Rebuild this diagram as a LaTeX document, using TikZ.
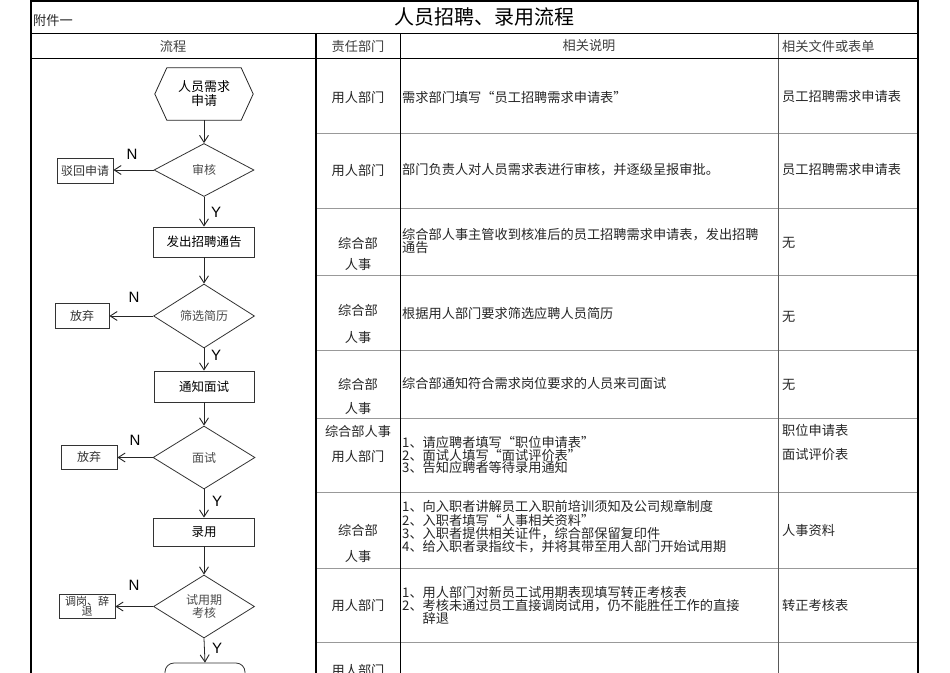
\documentclass[tikz,border=0pt]{standalone}
\usepackage{fontspec}
\setmainfont{Noto Sans CJK SC}
\newfontfamily\latf{Liberation Sans}
\usetikzlibrary{arrows.meta,shapes.geometric}
\begin{document}
\begin{tikzpicture}[x=1pt,y=-1pt,
  flowline/.style={draw=black!85,line width=0.8pt},
  arr/.style={flowline,-{Straight Barb[length=7pt,width=9pt,line width=0.9pt]}},
  procbox/.style={draw=black!80,line width=0.8pt,rectangle,inner sep=0pt,font=\fontsize{12.5}{13}\selectfont},
  sidebox/.style={draw=black!80,line width=0.8pt,rectangle,inner sep=0pt,font=\fontsize{12}{12}\selectfont,text=black!80},
  decision/.style={draw=black!80,line width=0.8pt,diamond,inner sep=0pt,aspect=2,font=\fontsize{12}{13}\selectfont,text=black!70},
  yn/.style={font=\latf\fontsize{15}{15}\selectfont,inner sep=0pt},
  cell/.style={font=\fontsize{13.2}{13}\selectfont,inner sep=0pt,text=black!85},
  desc/.style={cell,anchor=west,align=left},
  filec/.style={cell,anchor=west},
  rowline/.style={draw=black!40,line width=0.8pt},
]
\clip (0,0) rectangle (950,672);
\fill[white] (0,0) rectangle (950,672);

% ---- table grid ----
\foreach \yy in {133,208,275,350,418,492,568,642}
  \draw[rowline] (316,\yy) -- (918,\yy);
\draw[black!65,line width=1pt] (778,33) -- (778,690);
\draw[black,line width=1.2pt] (400.5,33) -- (400.5,690);
\draw[black,line width=1.5pt] (316,33) -- (316,690);
\draw[black,line width=1pt] (31,33) -- (918,33);
\draw[black,line width=1pt] (31,58) -- (918,58);
\draw[black,line width=2pt] (31,690) -- (31,1) -- (918,1) -- (918,690);

% ---- title and header ----
\node[cell,anchor=west] (fj) at (33,20) {附件一};
\node[font=\fontsize{20}{20}\selectfont,inner sep=0pt] (title) at (484,17) {人员招聘、录用流程};
\node[cell,text=black!75] (h1) at (173,46) {流程};
\node[cell,text=black!75] (h2) at (358,46) {责任部门};
\node[cell,text=black!75] (h3) at (589,46) {相关说明};
\node[filec,text=black!75] (h4) at (782,46) {相关文件或表单};

% ---- row 1 ----
\node[cell] (r1d) at (358,97) {用人部门};
\node[desc] (r1s) at (402,97) {需求部门填写“员工招聘需求申请表”};
\node[filec] (r1f) at (782,97) {员工招聘需求申请表};
% ---- row 2 ----
\node[cell] (r2d) at (358,170) {用人部门};
\node[desc] (r2s) at (402,170) {部门负责人对人员需求表进行审核，并逐级呈报审批。};
\node[filec] (r2f) at (782,170) {员工招聘需求申请表};
% ---- row 3 ----
\node[cell] (r3d1) at (358,243) {综合部};
\node[cell] (r3d2) at (358,264) {人事};
\node[desc,font=\fontsize{13.2}{12}\selectfont] (r3s) at (402,241) {综合部人事主管收到核准后的员工招聘需求申请表，发出招聘\\通告};
\node[filec] (r3f) at (782,243) {无};
% ---- row 4 ----
\node[cell] (r4d1) at (358,310) {综合部};
\node[cell] (r4d2) at (358,337) {人事};
\node[desc] (r4s) at (402,313) {根据用人部门要求筛选应聘人员简历};
\node[filec] (r4f) at (782,317) {无};
% ---- row 5 ----
\node[cell] (r5d1) at (358,384) {综合部};
\node[cell] (r5d2) at (358,408) {人事};
\node[desc] (r5s) at (402,383) {综合部通知符合需求岗位要求的人员来司面试};
\node[filec] (r5f) at (782,385) {无};
% ---- row 6 ----
\node[cell] (r6d1) at (358,431) {综合部人事};
\node[cell] (r6d2) at (358,456) {用人部门};
\node[desc,font=\fontsize{13.2}{12.5}\selectfont] (r6s) at (402,455) {1、请应聘者填写“职位申请表”\\2、面试人填写“面试评价表”\\3、告知应聘者等待录用通知};
\node[filec] (r6f1) at (782,430) {职位申请表};
\node[filec] (r6f2) at (782,455) {面试评价表};
% ---- row 7 ----
\node[cell] (r7d1) at (358,530) {综合部};
\node[cell] (r7d2) at (358,556) {人事};
\node[desc,font=\fontsize{13.2}{12}\selectfont] (r7s) at (402,527) {1、向入职者讲解员工入职前培训须知及公司规章制度\\2、入职者填写“人事相关资料”\\3、入职者提供相关证件，综合部保留复印件\\4、给入职者录指纹卡，并将其带至用人部门开始试用期};
\node[filec] (r7f) at (782,530) {人事资料};
% ---- row 8 ----
\node[cell] (r8d) at (358,605) {用人部门};
\node[desc,font=\fontsize{13.2}{13}\selectfont] (r8s) at (402,605) {1、用人部门对新员工试用期表现填写转正考核表\\2、考核未通过员工直接调岗试用，仍不能胜任工作的直接\\\phantom{2、}辞退};
\node[filec] (r8f) at (782,605) {转正考核表};
% ---- row 9 (cut) ----
\node[cell] (r9d) at (358,670) {用人部门};

% ---- flow chart ----
\node[minimum width=98pt,minimum height=52pt,inner sep=0pt,align=center,font=\fontsize{13}{14}\selectfont] (req) at (204,94) {人员需求\\申请};
\draw[flowline] (req.west) -- ([xshift=12pt]req.north west) -- ([xshift=-12pt]req.north east) -- (req.east) -- ([xshift=-12pt]req.south east) -- ([xshift=12pt]req.south west) -- cycle;

\node[decision,minimum width=100pt,minimum height=53pt] (d1) at (204,170) {审核};
\node[sidebox,minimum width=56pt,minimum height=25pt] (rej) at (85,171) {驳回申请};
\node[procbox,minimum width=101pt,minimum height=30pt] (notice) at (204,242) {发出招聘通告};
\node[decision,minimum width=101pt,minimum height=64pt] (d2) at (204,316) {筛选简历};
\node[sidebox,minimum width=54pt,minimum height=25pt] (gu1) at (82,315.5) {放弃};
\node[procbox,minimum width=100pt,minimum height=31pt] (inv) at (204,386.5) {通知面试};
\node[decision,minimum width=102pt,minimum height=63pt] (d3) at (204,457.5) {面试};
\node[sidebox,minimum width=56pt,minimum height=24pt] (gu2) at (89,457) {放弃};
\node[procbox,minimum width=101pt,minimum height=28pt] (hire) at (204,532) {录用};
\node[decision,minimum width=101pt,minimum height=63pt,align=center] (d4) at (204,606.5) {试用期\\考核};
\node[sidebox,minimum width=56pt,minimum height=24pt,align=center,font=\fontsize{11}{10}\selectfont] (adj) at (87,606) {调岗、辞\\退};
\node[draw=black!80,line width=0.8pt,rounded corners=9pt,minimum width=80pt,minimum height=30pt] (endn) at (205,678) {};

\draw[arr] (req.south) -- (d1.north);
\draw[arr] (d1.west) -- (rej.east |- d1.west);
\draw[arr] (d1.south) -- (notice.north);
\draw[arr] (notice.south) -- (d2.north);
\draw[arr] (d2.west) -- (gu1.east |- d2.west);
\draw[arr] (d2.south) -- (inv.north);
\draw[arr] (inv.south) -- (d3.north);
\draw[arr] (d3.west) -- (gu2.east |- d3.west);
\draw[arr] (d3.south) -- (hire.north);
\draw[arr] (hire.south) -- (d4.north);
\draw[arr] (d4.west) -- (adj.east |- d4.west);
\draw[arr] (d4.south) -- (endn.north);

\node[yn] (n1) at (132,154) {N};
\node[yn] (y1) at (216,212) {Y};
\node[yn] (n2) at (134,297) {N};
\node[yn] (y2) at (216,355) {Y};
\node[yn] (n3) at (135,440) {N};
\node[yn] (y3) at (217,501) {Y};
\node[yn] (n4) at (134,585) {N};
\node[yn] (y4) at (217,648) {Y};
\end{tikzpicture}
\end{document}
